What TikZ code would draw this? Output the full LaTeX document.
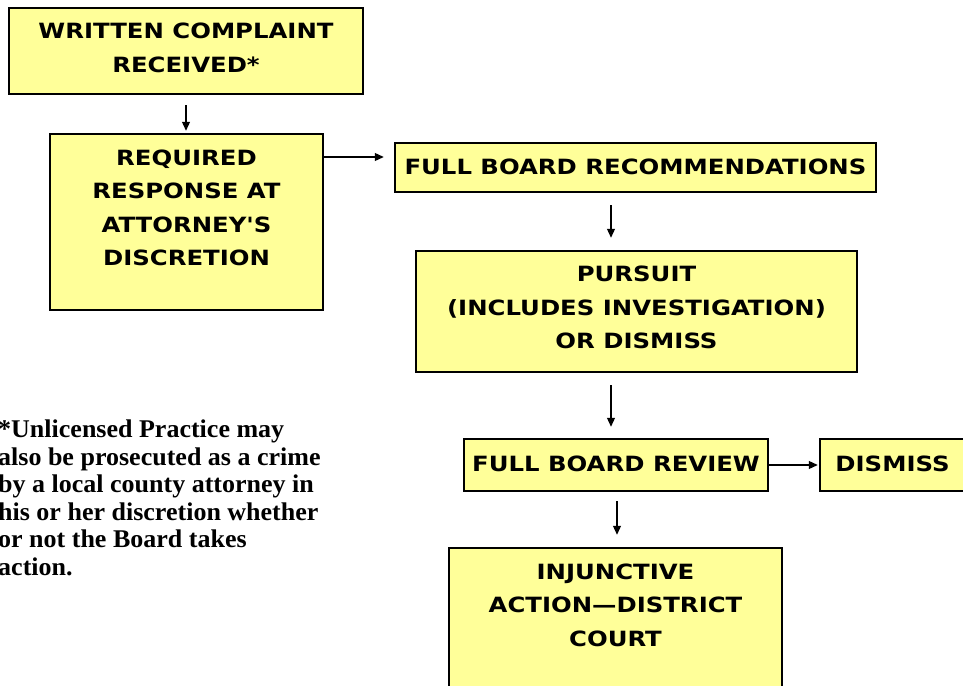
\documentclass[tikz,border=0pt]{standalone}
\usepackage{fontspec}
\setmainfont{Liberation Serif}
\newfontfamily\boxfont{DejaVu Sans}[FakeStretch=1.16]
\newfontfamily\notefont{Liberation Serif}[FakeStretch=1.02]
\usetikzlibrary{arrows.meta}
\definecolor{boxyellow}{HTML}{FFFF99}
\begin{document}
\begin{tikzpicture}[x=1pt,y=-1pt,
  box/.style={draw=black, line width=2.5pt, fill=boxyellow, rectangle, inner sep=0pt},
  lbl/.style={font=\boxfont\bfseries\fontsize{21}{33.5}\selectfont, align=center, inner sep=0pt},
  arr/.style={line width=1.2pt, -{Triangle[length=9pt,width=8pt]}},
  notetext/.style={font=\notefont\bfseries\fontsize{25.5}{27.5}\selectfont, align=left, inner sep=0pt, anchor=north west}]
\useasboundingbox (0,0) rectangle (963,685);
% boxes
\node[box, minimum width=354pt, minimum height=86pt]  (b1) at (186,51) {};
\node[box, minimum width=273pt, minimum height=176pt] (b2) at (186.5,222) {};
\node[box, minimum width=481pt, minimum height=49pt]  (b3) at (635.5,167.5) {};
\node[box, minimum width=441pt, minimum height=121pt] (b4) at (636.5,311.5) {};
\node[box, minimum width=304pt, minimum height=52pt]  (b5) at (616,465) {};
\node[box, minimum width=149pt, minimum height=52pt]  (b6) at (894.5,465) {};
\node[box, minimum width=333pt, minimum height=172pt] (b7) at (615.5,634) {};
% labels
\node[lbl] (t1) at (186,48) {WRITTEN COMPLAINT\\RECEIVED*};
\node[lbl] (t2) at (186.5,208) {REQUIRED\\RESPONSE AT\\ATTORNEY'S\\DISCRETION};
\node[lbl] (t3) at (635.5,167) {FULL BOARD RECOMMENDATIONS};
\node[lbl] (t4) at (636.5,307.5) {PURSUIT\\(INCLUDES INVESTIGATION)\\OR DISMISS};
\node[lbl] (t5) at (616,464) {FULL BOARD REVIEW};
\node[lbl] (t6) at (892.5,464) {DISMISS};
\node[lbl] (t7) at (615.5,605) {INJUNCTIVE\\ACTION—DISTRICT\\COURT};
% note
\node[notetext] (note) at (-2,420) {*Unlicensed Practice may\\also be prosecuted as a crime\\by a local county attorney in\\his or her discretion whether\\or not the Board takes\\action.};
% connectors
\coordinate (y157) at (0,157);
\coordinate (x611) at (611,0);
\coordinate (x617) at (617,0);
\draw[arr, shorten <=10pt, shorten >=2pt] (b1.south) -- (b1.south |- b2.north);
\draw[arr, shorten >=10pt] (b2.east |- y157) -- (b3.west |- y157);
\draw[arr, shorten <=12pt, shorten >=12pt] (b3.south -| x611) -- (b4.north -| x611);
\draw[arr, shorten <=12pt, shorten >=11pt] (b4.south -| x611) -- (b5.north -| x611);
\draw[arr, shorten >=1pt] (b5.east) -- (b6.west);
\draw[arr, shorten <=9pt, shorten >=12pt] (b5.south -| x617) -- (b7.north -| x617);
\end{tikzpicture}
\end{document}
